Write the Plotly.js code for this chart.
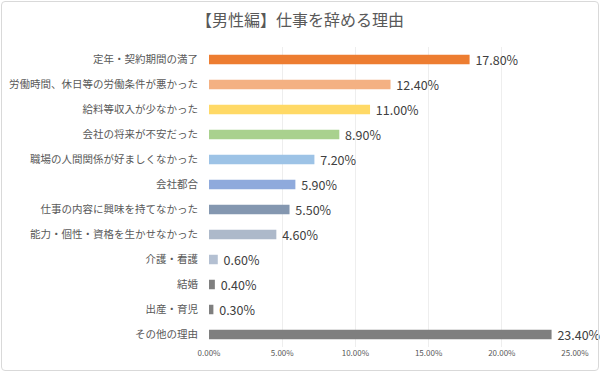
<!DOCTYPE html>
<html>
<head>
<meta charset="utf-8">
<script src="https://cdn.plot.ly/plotly-3.0.1.min.js"></script>
<style>
html,body{margin:0;padding:0;background:#fff;}
#wrap{position:relative;width:600px;height:372px;}
#chart{position:absolute;left:0;top:0;width:600px;height:372px;}
#frame{position:absolute;left:1px;top:1px;width:596px;height:368px;border:1px solid #d9d9d9;border-radius:4px;pointer-events:none;}
</style>
</head>
<body>
<div id="wrap"><div id="chart"></div><div id="frame"></div></div>
<script>
const categories = [
  "定年・契約期間の満了",
  "労働時間、休日等の労働条件が悪かった",
  "給料等収入が少なかった",
  "会社の将来が不安だった",
  "職場の人間関係が好ましくなかった",
  "会社都合",
  "仕事の内容に興味を持てなかった",
  "能力・個性・資格を生かせなかった",
  "介護・看護",
  "結婚",
  "出産・育児",
  "その他の理由"
];
const values = [17.8, 12.4, 11.0, 8.9, 7.2, 5.9, 5.5, 4.6, 0.6, 0.4, 0.3, 23.4];
const colors = ["#ED7D31","#F4B183","#FFD966","#A9D18E","#9DC3E6","#8FAADC","#8497B0","#ADB9CA","#B4C0D2","#7F7F7F","#7F7F7F","#7F7F7F"];
const tickVals = [0, 5, 10, 15, 20, 25];
const tickText = ["0.00%","5.00%","10.00%","15.00%","20.00%","25.00%"];
const titleText = "【男性編】仕事を辞める理由";

const trace = {
  type: "bar",
  orientation: "h",
  y: categories,
  x: values,
  marker: {color: colors},
  width: 0.38,
  text: values.map(v => "\u00a0" + v.toFixed(2) + "%"),
  textposition: "outside",
  constraintext: "none",
  cliponaxis: false,
  textfont: {size: 12.5, color: "#404040", family: "Noto Sans CJK JP, sans-serif"},
  hoverinfo: "none"
};

const layout = {
  width: 600, height: 372,
  margin: {l: 209, r: 25, t: 47, b: 25},
  paper_bgcolor: "#ffffff",
  plot_bgcolor: "#ffffff",
  showlegend: false,
  font: {family: "Noto Sans CJK JP, sans-serif", color: "#595959"},
  title: {text: titleText, x: 0.5, xanchor: "center", y: 0.945, yanchor: "middle",
          font: {size: 16, color: "#595959", family: "Noto Sans CJK JP, sans-serif"}},
  xaxis: {
    range: [0, 25],
    tickvals: tickVals, ticktext: tickText,
    tickfont: {size: 8, color: "#595959"},
    showgrid: true, gridcolor: "#eeeeee", gridwidth: 1,
    zeroline: false, showline: false, ticks: "", ticklen: 0,
    fixedrange: true
  },
  yaxis: {
    autorange: "reversed",
    tickfont: {size: 10.5, color: "#595959"},
    showgrid: false, zeroline: false, showline: false,
    ticks: "", ticklen: 0, ticklabelstandoff: 10,
    fixedrange: true
  }
};
const chartDiv = document.getElementById("chart");
Plotly.newPlot(chartDiv, [trace], layout, {staticPlot: true, displayModeBar: false});
</script>
</body>
</html>
